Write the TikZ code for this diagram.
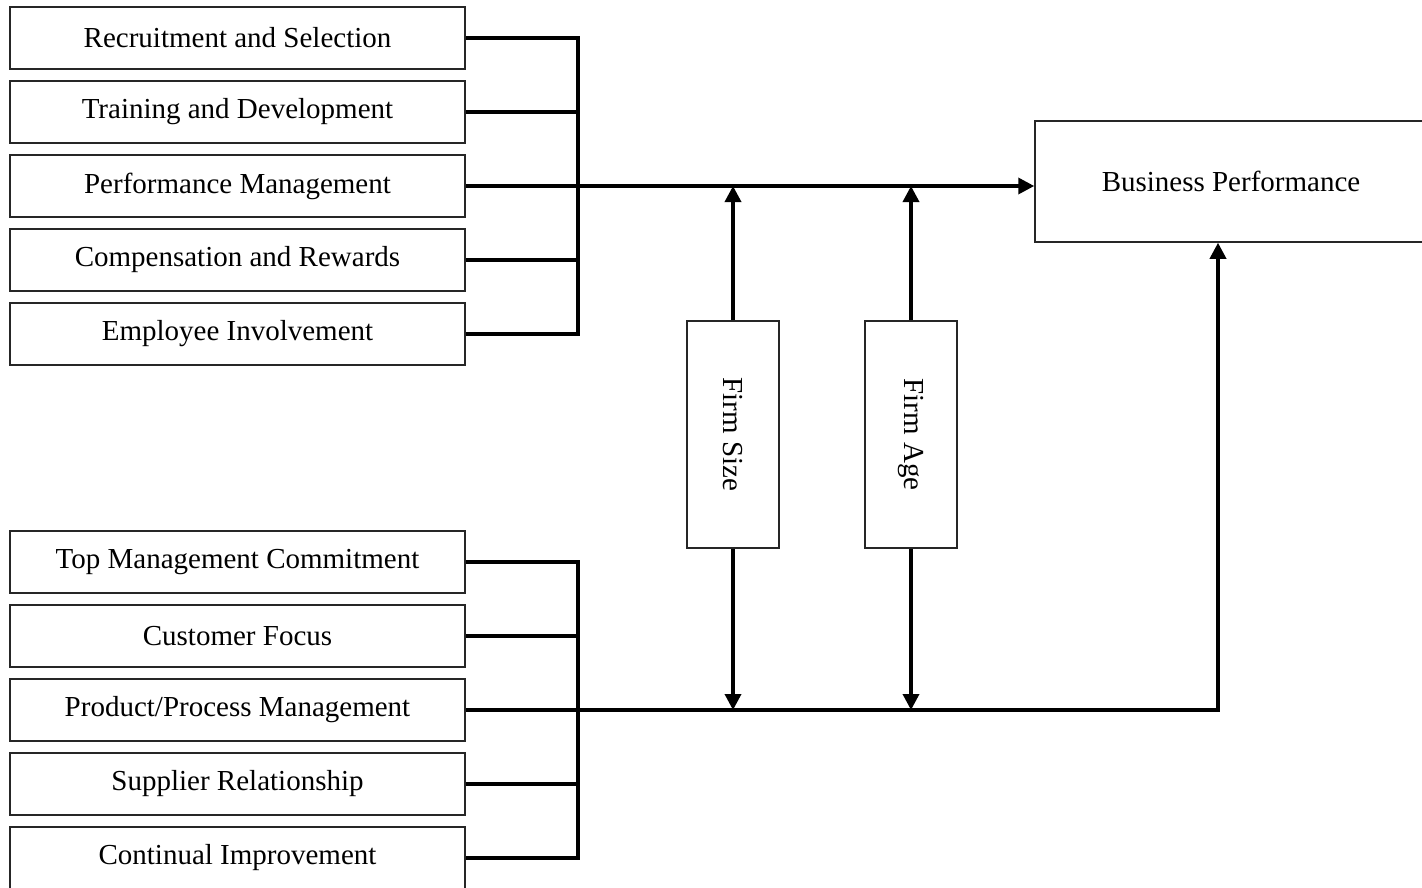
\documentclass[tikz,border=0pt]{standalone}
\usepackage{fontspec}
\setmainfont{Liberation Serif}
\usetikzlibrary{arrows.meta}
\begin{document}
\begin{tikzpicture}[x=1pt,y=-1pt,
  box/.style={draw=black!85, line width=1.5pt, minimum width=455pt, minimum height=62pt, inner sep=0pt, font=\fontsize{29}{34}\selectfont, anchor=center},
  firmbox/.style={draw=black!85, line width=1.5pt, minimum width=92pt, minimum height=227pt, inner sep=0pt, font=\fontsize{29}{34}\selectfont},
  conn/.style={line width=3.5pt, black},
  arr/.style={conn, -{Triangle[length=16pt,width=16pt]}}
]
\useasboundingbox (0,0) rectangle (1422,887);
\clip (0,0) rectangle (1422,887);
% top group
\node[box] (rs) at (237.5,38) {Recruitment and Selection};
\node[box] (td) at (237.5,112) {Training and Development};
\node[box] (pm) at (237.5,186) {Performance Management};
\node[box] (cr) at (237.5,260) {Compensation and Rewards};
\node[box] (ei) at (237.5,334) {Employee Involvement};
% bottom group
\node[box] (tmc) at (237.5,562) {Top Management Commitment};
\node[box] (cf) at (237.5,636) {Customer Focus};
\node[box] (ppm) at (237.5,710) {Product/Process Management};
\node[box] (sr) at (237.5,784) {Supplier Relationship};
\node[box] (ci) at (237.5,858) {Continual Improvement};
% moderators
\node[firmbox] (fs) at (733,434.5) {\rotatebox{-90}{Firm Size}};
\node[firmbox] (fa) at (911,434.5) {\rotatebox{-90}{Firm Age}};
% outcome
\node[draw=black!85, line width=1.5pt, minimum width=392pt, minimum height=121pt, inner sep=0pt, font=\fontsize{29}{34}\selectfont] (bp) at (1231,181.5) {Business Performance};
% bus coordinates
\coordinate (bt) at (578,0);
% top bus
\draw[conn] (rs.east) -- (rs.east -| bt) -- (ei.east -| bt) -- (ei.east);
\draw[conn] (td.east) -- (td.east -| bt);
\draw[conn] (cr.east) -- (cr.east -| bt);
\draw[arr] (pm.east) -- (pm.east -| bp.west);
% bottom bus
\draw[conn] (tmc.east) -- (tmc.east -| bt) -- (ci.east -| bt) -- (ci.east);
\draw[conn] (cf.east) -- (cf.east -| bt);
\draw[conn] (sr.east) -- (sr.east -| bt);
\coordinate (bpin) at ([xshift=-13pt]bp.south);
\draw[arr] (ppm.east) -- (ppm.east -| bpin) -- (bpin);
% moderator arrows
\draw[arr] (fs.north) -- (fs.north |- pm.east);
\draw[arr] (fa.north) -- (fa.north |- pm.east);
\draw[arr] (fs.south) -- (fs.south |- ppm.east);
\draw[arr] (fa.south) -- (fa.south |- ppm.east);
\end{tikzpicture}
\end{document}
